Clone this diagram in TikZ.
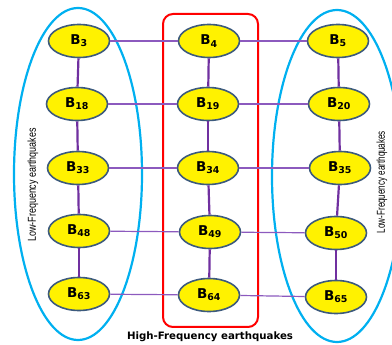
\documentclass[tikz,border=0pt]{standalone}
\usepackage{fontspec}
\setmainfont{DejaVu Sans}
\newfontfamily\narrowfont{Liberation Sans}
\usetikzlibrary{shapes.geometric}

\definecolor{bpurple}{RGB}{112,48,160}
\definecolor{lpurple}{RGB}{140,90,190}
\definecolor{skyblue}{RGB}{0,176,240}
\definecolor{bborder}{RGB}{60,90,125}

\begin{document}
\begin{tikzpicture}[x=1pt, y=-1pt,
        band/.style={ellipse, draw=bborder, fill=yellow, line width=1.6pt,
            minimum width=61pt, minimum height=33pt, inner sep=0pt,
            font=\fontsize{13.5}{13.5}\selectfont\bfseries},
        vlink/.style={draw=bpurple, line width=2.2pt},
        hlink/.style={draw=lpurple, line width=1.2pt},
        sidelabel/.style={rotate=90, font=\fontsize{11.5}{11.5}\selectfont\narrowfont}]

        \useasboundingbox (0,0) rectangle (392,345);

        % groups
        \draw[skyblue, line width=2.2pt] (78, 174) ellipse (64 and 166);
        \draw[skyblue, line width=2.2pt] (337, 176) ellipse (65 and 166);
        \draw[red, line width=2pt, rounded corners=10pt] (163, 14) rectangle (258, 327);

        % nodes
        \node[band] (B3) at (79, 41) {B\textsubscript{3}};
        \node[band] (B18) at (77, 104) {B\textsubscript{18}};
        \node[band] (B33) at (78, 168) {B\textsubscript{33}};
        \node[band] (B48) at (79, 231) {B\textsubscript{48}};
        \node[band] (B63) at (79, 294) {B\textsubscript{63}};

        \node[band] (B4) at (209, 41) {B\textsubscript{4}};
        \node[band] (B19) at (208, 104) {B\textsubscript{19}};
        \node[band] (B34) at (208, 168) {B\textsubscript{34}};
        \node[band] (B49) at (210, 232) {B\textsubscript{49}};
        \node[band] (B64) at (209, 295) {B\textsubscript{64}};

        \node[band] (B5) at (338, 41) {B\textsubscript{5}};
        \node[band] (B20) at (339, 104) {B\textsubscript{20}};
        \node[band] (B35) at (340, 168) {B\textsubscript{35}};
        \node[band] (B50) at (336, 233) {B\textsubscript{50}};
        \node[band] (B65) at (336, 297) {B\textsubscript{65}};

        % links
        \path[vlink] (B3) -- (B18);
        \path[vlink] (B18) -- (B33);
        \path[vlink] (B33) -- (B48);
        \path[vlink] (B48) -- (B63);
        \path[vlink] (B4) -- (B19);
        \path[vlink] (B19) -- (B34);
        \path[vlink] (B34) -- (B49);
        \path[vlink] (B49) -- (B64);
        \path[vlink] (B5) -- (B20);
        \path[vlink] (B20) -- (B35);
        \path[vlink] (B35) -- (B50);
        \path[vlink] (B50) -- (B65);

        \path[hlink] (B3) -- (B4);
        \path[hlink] (B4) -- (B5);
        \path[hlink] (B18) -- (B19);
        \path[hlink] (B19) -- (B20);
        \path[hlink] (B33) -- (B34);
        \path[hlink] (B34) -- (B35);
        \path[hlink] (B48) -- (B49);
        \path[hlink] (B49) -- (B50);
        \path[hlink] (B63) -- (B64);
        \path[hlink] (B64) -- (B65);

        % labels
        \node[sidelabel] (lowleft) at (33, 185) {\scalebox{0.78}[1]{Low-Frequency earthquakes}};
        \node[sidelabel] (lowright) at (382, 182) {\scalebox{0.7}[1]{Low-Frequency earthquakes}};
        \node[font=\fontsize{10.2}{10.2}\selectfont\bfseries] (high) at (210, 337) {High-Frequency earthquakes};
    \end{tikzpicture}
\end{document}
